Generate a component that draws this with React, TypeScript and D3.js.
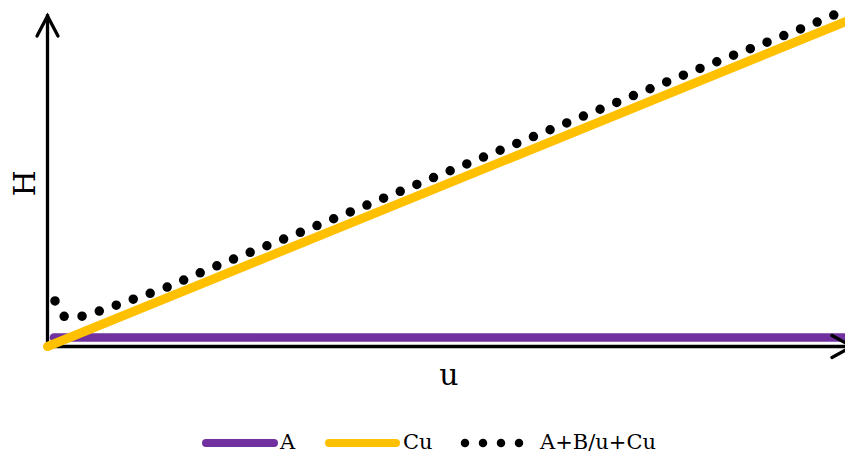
import React from "react";
import * as d3 from "d3";

// Series (u: flow velocity, H: plate height), arbitrary units
const uA = [0.08, 10.2];
const hA = [0.27, 0.27];

const uCu = [0, 10.2];
const hCu = [0, 10.04];

const uTotal = [0.094, 0.219, 0.432, 0.658, 0.871, 1.08, 1.5, 1.91, 3.18, 5.04, 6.29, 8.16, 9.83, 10.17];
const hTotal = [1.38, 0.91, 0.92, 1.08, 1.26, 1.44, 1.8, 2.23, 3.47, 5.32, 6.56, 8.41, 10.02, 10.38];

const legendLabels = ["A", "Cu", "A+B/u+Cu"];
const xLabel = "u";
const yLabel = "H";

const W = 845;
const H = 454;
const PURPLE = "#7030A0";
const YELLOW = "#FFC000";
const FONT = "'DejaVu Serif', serif";

export default function App() {
  const x = d3.scaleLinear().domain([0, 10]).range([47.5, 845.5]);
  const y = d3.scaleLinear().domain([0, 10]).range([346.5, 16.5]);

  const line = d3
    .line<[number, number]>()
    .x((d) => x(d[0]))
    .y((d) => y(d[1]));
  const curve = d3
    .line<[number, number]>()
    .x((d) => x(d[0]))
    .y((d) => y(d[1]))
    .curve(d3.curveMonotoneX);

  const aPts = uA.map((u, i) => [u, hA[i]] as [number, number]);
  const cuPts = uCu.map((u, i) => [u, hCu[i]] as [number, number]);
  const totPts = uTotal.map((u, i) => [u, hTotal[i]] as [number, number]);

  const x0 = x(0);
  const y0 = y(0);
  const xEnd = 852;
  const yTop = 16;

  const legY = 443;
  const legText = 448.5;

  return (
    <svg
      width={W}
      height={H}
      style={{ position: "absolute", left: 0, top: 0, display: "block", background: "#fff" }}
    >
      {/* A */}
      <path d={line(aPts) || ""} fill="none" stroke={PURPLE} strokeWidth={8.5} strokeLinecap="round" />
      {/* Axes */}
      <g stroke="#000" strokeWidth={3.3} fill="none" strokeLinejoin="miter">
        <path d={`M${x0},${yTop} L${x0},${y0} L${xEnd},${y0}`} strokeLinecap="square" />
        <path d={`M${x0 - 10.5},${yTop + 20} L${x0},${yTop} L${x0 + 10.5},${yTop + 20}`} strokeLinecap="round" />
        <path d={`M${xEnd - 20},${y0 - 11} L${xEnd},${y0} L${xEnd - 20},${y0 + 11}`} strokeLinecap="round" />
      </g>
      {/* Cu */}
      <path d={line(cuPts) || ""} fill="none" stroke={YELLOW} strokeWidth={9} strokeLinecap="round" />
      {/* A+B/u+Cu */}
      <path
        d={curve(totPts) || ""}
        fill="none"
        stroke="#000"
        strokeWidth={9.5}
        strokeLinecap="round"
        strokeDasharray="0 18"
      />

      {/* Axis labels */}
      <text x={449} y={385} textAnchor="middle" fontFamily={FONT} fontSize={30} fill="#000">
        {xLabel}
      </text>
      <text
        transform={`translate(35,183.5) rotate(-90)`}
        textAnchor="middle"
        fontFamily={FONT}
        fontSize={30}
        fill="#000"
      >
        {yLabel}
      </text>

      {/* Legend */}
      <g fontFamily={FONT} fontSize={21} fill="#000">
        <line x1={206} x2={274} y1={legY} y2={legY} stroke={PURPLE} strokeWidth={8} strokeLinecap="round" />
        <text x={280} y={legText}>{legendLabels[0]}</text>
        <line x1={329} x2={396} y1={legY} y2={legY} stroke={YELLOW} strokeWidth={8} strokeLinecap="round" />
        <text x={403} y={legText}>{legendLabels[1]}</text>
        <line
          x1={465}
          x2={520}
          y1={legY}
          y2={legY}
          stroke="#000"
          strokeWidth={8.5}
          strokeLinecap="round"
          strokeDasharray="0 18"
        />
        <text x={540} y={legText}>{legendLabels[2]}</text>
      </g>
    </svg>
  );
}
